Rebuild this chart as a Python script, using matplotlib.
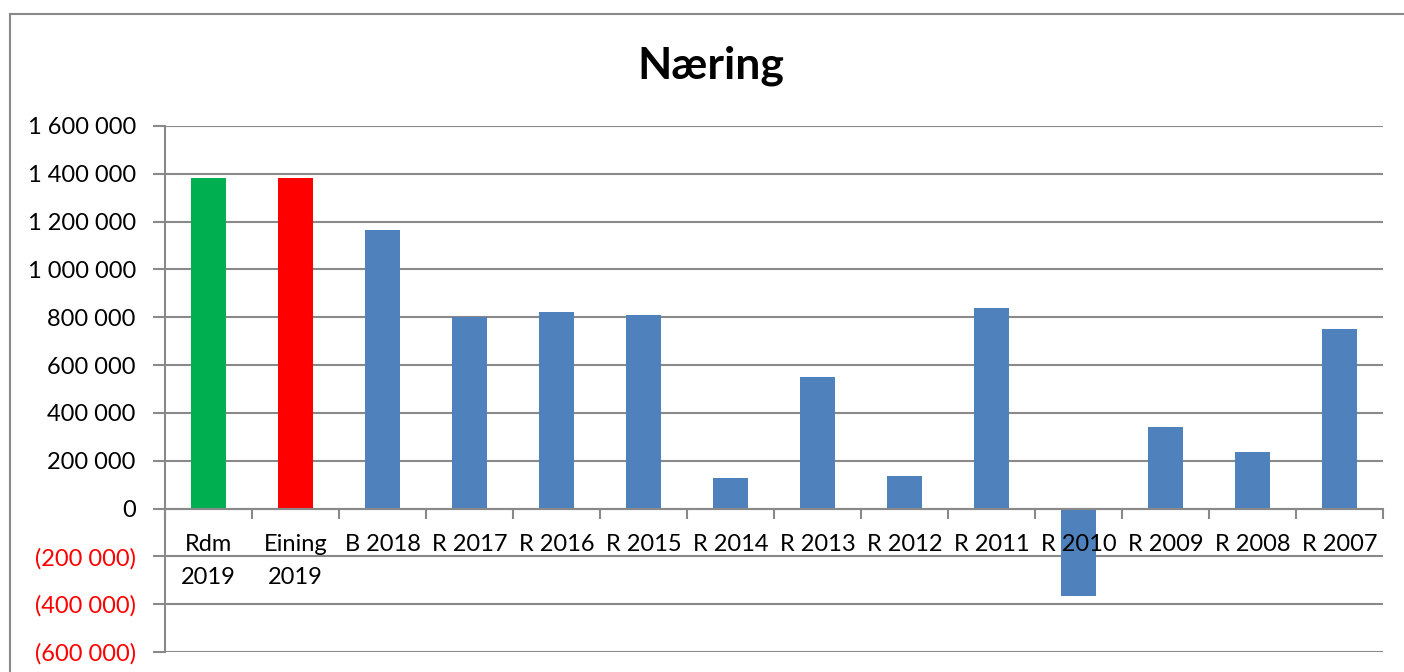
#!/usr/bin/env python3
"""Næring - budget/result per year, bar chart."""

import matplotlib
matplotlib.use("Agg")
import matplotlib.pyplot as plt
from matplotlib.lines import Line2D
from matplotlib.ticker import FuncFormatter, FixedLocator
import numpy as np

# Data
categories = ["Rdm\n2019", "Eining\n2019", "B 2018", "R 2017", "R 2016", "R 2015",
              "R 2014", "R 2013", "R 2012", "R 2011", "R 2010", "R 2009",
              "R 2008", "R 2007"]
values = [1381000, 1381000, 1167000, 803000, 824000, 808000, 126000,
          552000, 138000, 837000, -364000, 339000, 238000, 753000]
bar_colors = ["#00B050", "#FF0000"] + ["#4F81BD"] * 12
title = "Næring"

GRID = "#898989"

plt.rcParams["font.family"] = ["Lato", "DejaVu Sans"]

fig = plt.figure(figsize=(14.04, 6.72), dpi=100)
ax = fig.add_axes([165 / 1404, 1 - 652 / 672, (1383 - 165) / 1404, (652 - 126) / 672])

x = np.arange(len(categories))
ax.bar(x, values, width=0.4, color=bar_colors, zorder=3)

ax.set_xlim(-0.5, len(categories) - 0.5)
ax.set_ylim(-600000, 1600000)

# y axis
yticks = np.arange(-600000, 1600001, 200000)
ax.set_yticks(yticks)

def fmt(v, pos):
    s = f"{abs(int(v)):,}".replace(",", " ")
    return f"({s})" if v < 0 else s

ax.yaxis.set_major_formatter(FuncFormatter(fmt))
ax.tick_params(axis="y", length=9, width=1.5, color=GRID, labelsize=17, pad=12)
for lbl, v in zip(ax.get_yticklabels(), yticks):
    if v < 0:
        lbl.set_color("#FF0000")
ax.grid(axis="y", color=GRID, linewidth=1.5, zorder=0)

# x axis sits at zero, labels drawn over the bars
ax.spines["bottom"].set_position(("data", 0))
ax.spines["bottom"].set_color(GRID)
ax.spines["bottom"].set_linewidth(1.5)
ax.spines["bottom"].set_zorder(4)
ax.spines["left"].set_color(GRID)
ax.spines["left"].set_linewidth(1.5)
ax.spines["top"].set_visible(False)
ax.spines["right"].set_visible(False)
ax.xaxis.set_zorder(5)

ax.xaxis.set_major_locator(FixedLocator(np.arange(-0.5, len(categories), 1.0)))
ax.xaxis.set_minor_locator(FixedLocator(x))
ax.xaxis.set_major_formatter(FuncFormatter(lambda v, p: ""))
ax.set_xticklabels(categories, minor=True)
ax.tick_params(axis="x", which="major", length=7, width=1.5, color=GRID, direction="out")
ax.tick_params(axis="x", which="minor", length=0, labelsize=17, pad=18)
for lbl in ax.get_xticklabels(minor=True):
    lbl.set_linespacing(1.75)

fig.text(0.5065, 1 - 66 / 672, title, ha="center", va="center",
         fontsize=32, fontweight="bold")

# chart frame (cropped on the right and bottom)
fig.add_artist(Line2D([10 / 1404, 10 / 1404], [0, 1 - 14 / 672],
                      transform=fig.transFigure, color=GRID, linewidth=1.5))
fig.add_artist(Line2D([10 / 1404, 1], [1 - 14 / 672, 1 - 14 / 672],
                      transform=fig.transFigure, color=GRID, linewidth=1.5))

fig.savefig("out.png", dpi=100)
